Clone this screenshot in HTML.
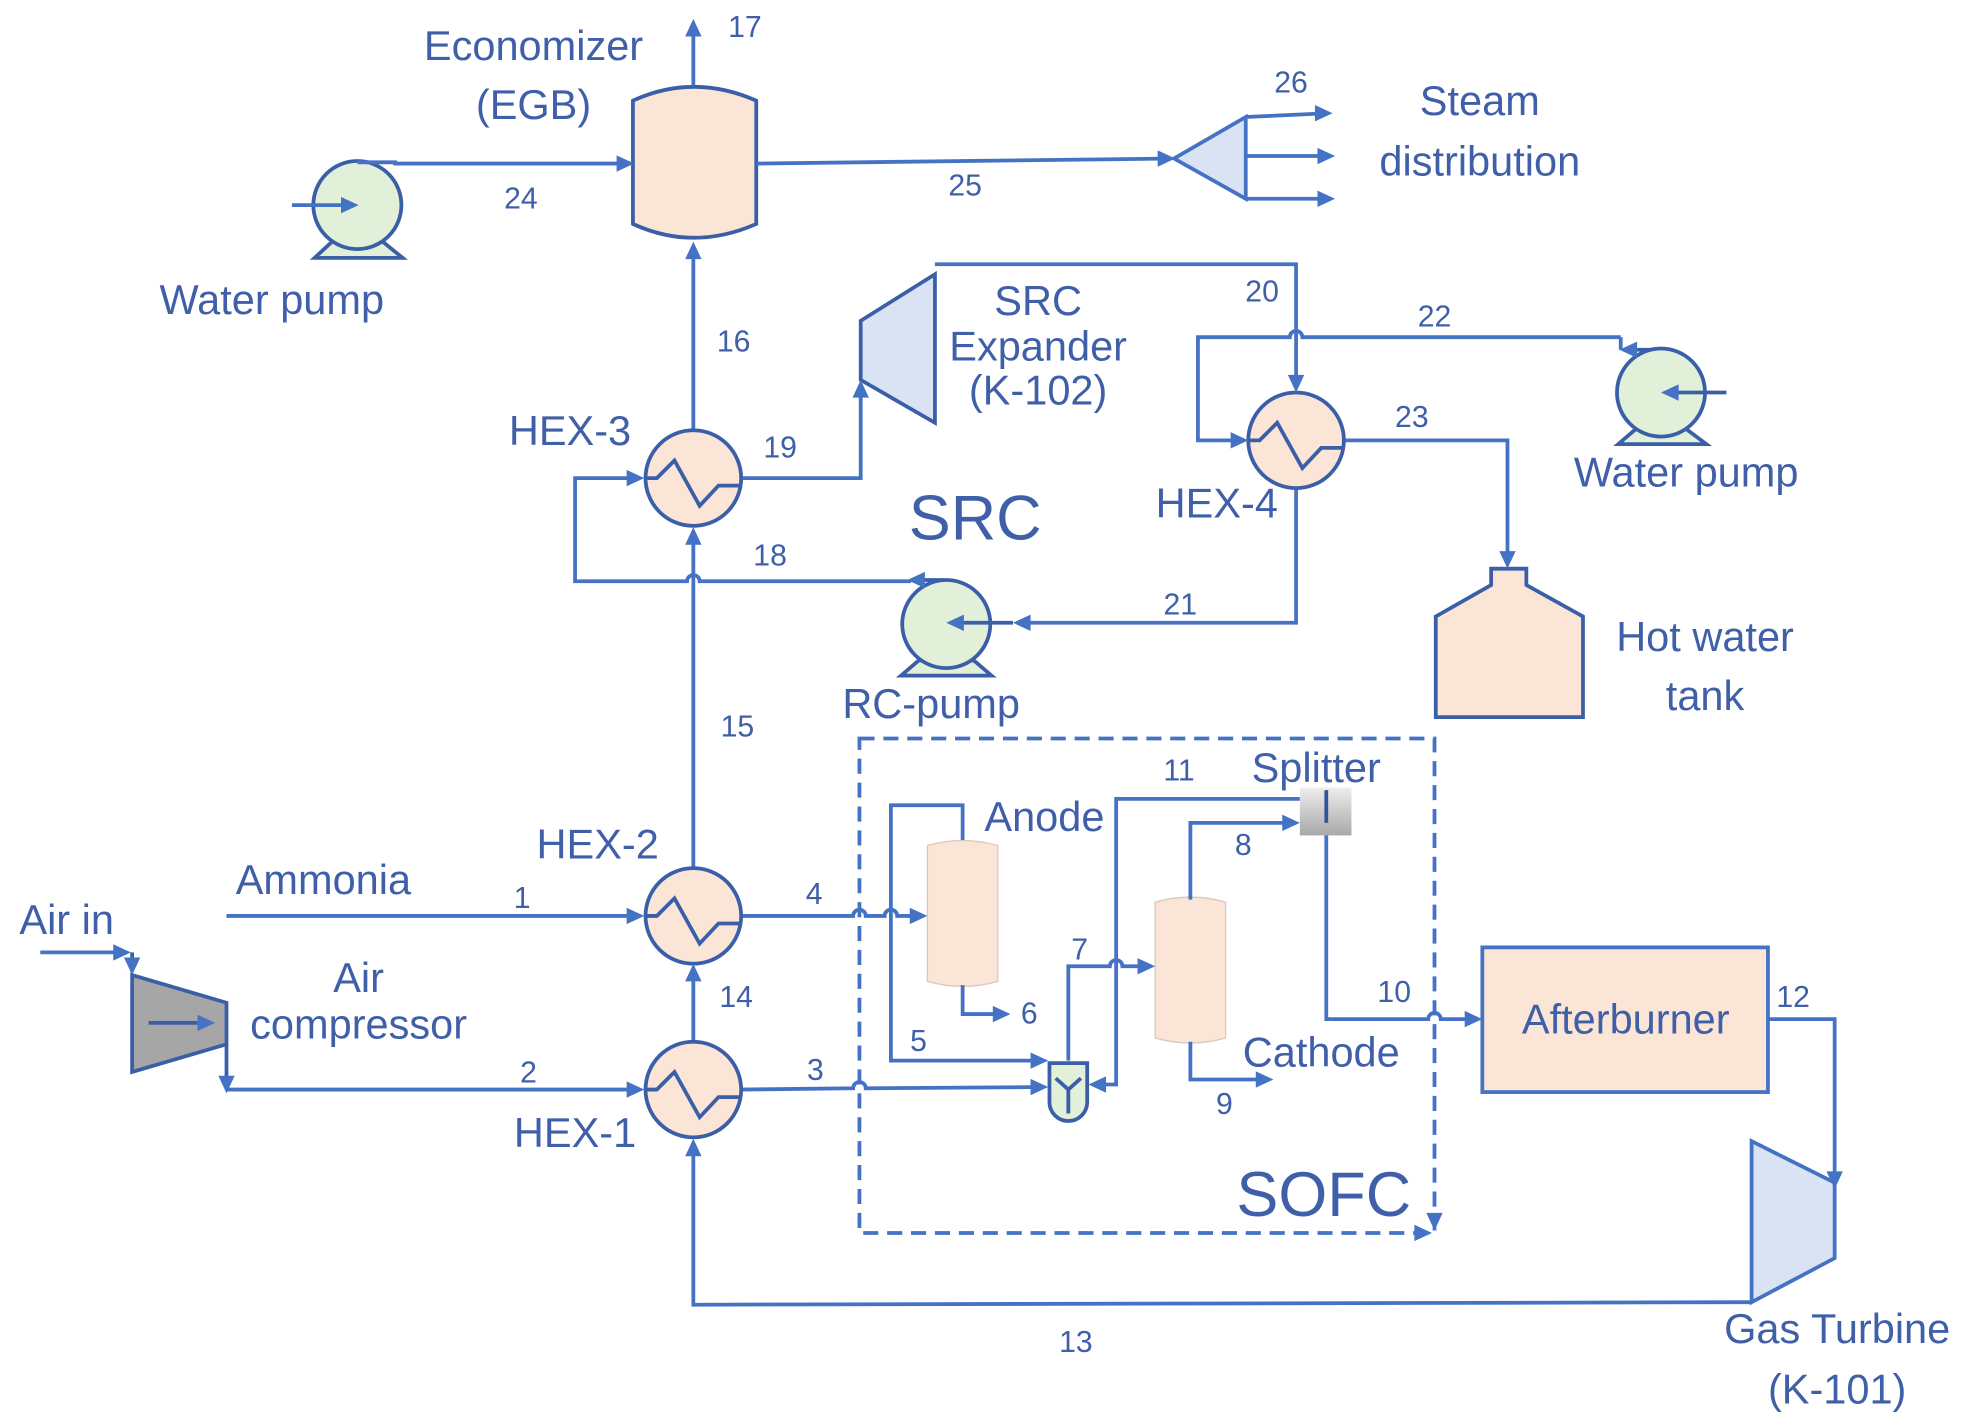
<!DOCTYPE html>
<html><head><meta charset="utf-8"><style>
html,body{margin:0;padding:0;background:#fff}
svg{display:block}
text{font-family:"Liberation Sans",sans-serif;fill:#3F5FA8;dominant-baseline:central;text-anchor:middle}
.n{font-size:24px}
.t{font-size:33px}
.b{font-size:50px}
</style></head><body>
<svg width="1963" height="1428" viewBox="0 0 1560 1135" preserveAspectRatio="none" xmlns="http://www.w3.org/2000/svg" xmlns:xlink="http://www.w3.org/1999/xlink">
<defs>
<path id="R" d="M1,0 L-13,-6.5 L-13,6.5 Z" fill="#4472C4"/>
<linearGradient id="g" x1="0" y1="0" x2="0" y2="1"><stop offset="0" stop-color="#eeeeee"/><stop offset="1" stop-color="#a8a8a8"/></linearGradient>
</defs>
<g fill="none" stroke="#4472C4" stroke-width="3">
<path d="M503,80 Q551,58 601,80 L601,178 Q551,200 503,178 Z" fill="#FBE5D6" stroke="#3A5FA8"/>
<line x1="551" y1="68" x2="551" y2="20"/>
<path d="M250,205 L264,192 L304,192 L320,205 Z" fill="#E2F0D9" stroke="#3A5FA8"/>
<circle cx="284" cy="163" r="35" fill="#E2F0D9" stroke="#3A5FA8"/>
<line x1="232" y1="163" x2="280" y2="163"/>
<path d="M284,129 L314,129 L314,130 L500,130"/>
<line x1="601" y1="130" x2="930" y2="126"/>
<polygon points="933,126 990,93 990,158" fill="#DAE3F3"/>
<line x1="990" y1="93" x2="1055" y2="90"/>
<line x1="990" y1="124" x2="1057" y2="124"/>
<line x1="990" y1="158" x2="1057" y2="158"/>
<line x1="551" y1="342" x2="551" y2="196"/>
<path d="M589,380 L684,380 L684,306"/>
<polygon points="684,255 743,218 743,336 684,302" fill="#DAE3F3" stroke="#3A5FA8"/>
<path d="M743,210 L1030,210 L1030,308"/>
<path d="M1288,268 L1035,268 A5,5 0 0 0 1025,268 L952,268 L952,350 L988,350"/>
<path d="M1288,268 L1288,278"/>
<path d="M1318,278 L1290,278" stroke="#3A5FA8"/>
<path d="M1286,353 L1300,341 L1340,341 L1356,353 Z" fill="#E2F0D9" stroke="#3A5FA8"/>
<ellipse cx="1320" cy="312" rx="35" ry="35" fill="#E2F0D9" stroke="#3A5FA8"/>
<line x1="1372" y1="312" x2="1324" y2="312" stroke="#3A5FA8"/>
<path d="M1068,350 L1198,350 L1198,448"/>
<polygon points="1141,490 1185,465 1185,452 1213,452 1213,465 1258,490 1258,570 1141,570" fill="#FBE5D6" stroke="#3A5FA8"/>
<path d="M1030,388 L1030,495 L809,495"/>
<path d="M716,537 L730,525 L774,525 L788,537 Z" fill="#E2F0D9" stroke="#3A5FA8"/>
<circle cx="752" cy="496" r="35" fill="#E2F0D9" stroke="#3A5FA8"/>
<line x1="805" y1="495" x2="756" y2="495" stroke="#3A5FA8"/>
<path d="M750,461 L725,461" stroke="#3A5FA8"/>
<path d="M724,462 L556,462 A5,5 0 0 0 546,462 L457,462 L457,380 L508,380"/>
<line x1="551" y1="689" x2="551" y2="423"/>
<line x1="180" y1="728" x2="508" y2="728"/>
<path d="M589,728 L678,728 A5,5 0 0 1 688,728 L703,728 A5,5 0 0 1 713,728 L733,728"/>
<line x1="551" y1="828" x2="551" y2="770"/>
<path d="M32,757 L100,757"/>
<path d="M105,757 L105,771" stroke="#3A5FA8"/>
<polygon points="105,775 180,797 180,830 105,852" fill="#A6A6A6" stroke="#3A5FA8"/>
<line x1="118" y1="813" x2="167" y2="813" stroke="#3A5FA8"/>
<path d="M180,830 L180,865" stroke="#3A5FA8"/>
<line x1="180" y1="866" x2="508" y2="866"/>
<path d="M589,866 L678,865 A5,5 0 0 1 688,865 L829,864"/>
<path d="M765,668 L765,640 L708,640 L708,843 L829,843"/>
<path d="M737,672 L737,780 Q765,788 793,780 L793,672 Q765,664 737,672 Z" fill="#FBE5D6" stroke="#d9c7bb" stroke-width="1"/>
<path d="M765,783 L765,806 L799,806"/>
<path d="M849,843 L849,768 L882,768 A5,5 0 0 1 892,768 L914,768"/>
<path d="M1033,635 L887,635 L887,862 L869,862"/>
<path d="M918,717 L918,825 Q946,833 974,825 L974,717 Q946,709 918,717 Z" fill="#FBE5D6" stroke="#d9c7bb" stroke-width="1"/>
<path d="M946,715 L946,654 L1029,654"/>
<path d="M946,828 L946,858 L1008,858"/>
<rect x="1033" y="626" width="41" height="38" fill="url(#g)" stroke="none"/>
<line x1="1054" y1="628" x2="1054" y2="654" stroke="#2F5597"/>
<path d="M1054,664 L1054,810 L1135,810 A5,5 0 0 1 1145,810 L1174,810"/>
<path d="M834,845 L864,845 L864,876 A15,15 0 0 1 834,876 Z" fill="#E2F0D9" stroke="#3A5FA8"/>
<path d="M839,857 L849,866 L859,857 M849,866 L849,885" stroke="#3A5FA8"/>
<rect x="683" y="587" width="457" height="393" stroke-dasharray="12,7"/>
<rect x="1178" y="753" width="227" height="115" fill="#FBE5D6"/>
<path d="M1405,810 L1458,810 L1458,941"/>
<polygon points="1392,907 1458,940 1458,1000 1392,1035" fill="#DAE3F3"/>
<path d="M1392,1035 L551,1037 L551,909"/>
<g fill="#FBE5D6" stroke="#3A5FA8">
<circle cx="551" cy="380" r="38"/><circle cx="1030" cy="350" r="38"/><circle cx="551" cy="728" r="38"/><circle cx="551" cy="866" r="38"/>
</g>
<g stroke="#3A5FA8">
<path d="M513,380 L522,380 L536,366 L556,402 L571,386 L589,386"/>
<path d="M992,350 L1001,350 L1015,336 L1035,372 L1050,356 L1068,356"/>
<path d="M513,728 L522,728 L536,714 L556,750 L571,734 L589,734"/>
<path d="M513,866 L522,866 L536,852 L556,888 L571,872 L589,872"/>
</g>
</g>
<!-- arrowheads -->
<g>
<use xlink:href="#R" href="#R" transform="translate(551,16) rotate(-90)"/>
<use xlink:href="#R" href="#R" transform="translate(284,163)"/>
<use xlink:href="#R" href="#R" transform="translate(503,130)"/>
<use xlink:href="#R" href="#R" transform="translate(933,126)"/>
<use xlink:href="#R" href="#R" transform="translate(1058,90)"/>
<use xlink:href="#R" href="#R" transform="translate(1060,124)"/>
<use xlink:href="#R" href="#R" transform="translate(1060,158)"/>
<use xlink:href="#R" href="#R" transform="translate(551,193) rotate(-90)"/>
<use xlink:href="#R" href="#R" transform="translate(684,303) rotate(-90)"/>
<use xlink:href="#R" href="#R" transform="translate(1030,311) rotate(90)"/>
<use xlink:href="#R" href="#R" transform="translate(991,350)"/>
<use xlink:href="#R" href="#R" transform="translate(1288,278) rotate(180)"/>
<use xlink:href="#R" href="#R" transform="translate(1321,312) rotate(180)"/>
<use xlink:href="#R" href="#R" transform="translate(1198,451) rotate(90)"/>
<use xlink:href="#R" href="#R" transform="translate(806,495) rotate(180)"/>
<use xlink:href="#R" href="#R" transform="translate(753,495) rotate(180)"/>
<use xlink:href="#R" href="#R" transform="translate(722,461) rotate(180)"/>
<use xlink:href="#R" href="#R" transform="translate(511,380)"/>
<use xlink:href="#R" href="#R" transform="translate(551,420) rotate(-90)"/>
<use xlink:href="#R" href="#R" transform="translate(511,728)"/>
<use xlink:href="#R" href="#R" transform="translate(736,728)"/>
<use xlink:href="#R" href="#R" transform="translate(551,767) rotate(-90)"/>
<use xlink:href="#R" href="#R" transform="translate(103,757)"/>
<use xlink:href="#R" href="#R" transform="translate(105,774) rotate(90)"/>
<use xlink:href="#R" href="#R" transform="translate(170,813)"/>
<use xlink:href="#R" href="#R" transform="translate(180,868) rotate(90)"/>
<use xlink:href="#R" href="#R" transform="translate(511,866)"/>
<use xlink:href="#R" href="#R" transform="translate(832,864)"/>
<use xlink:href="#R" href="#R" transform="translate(832,843)"/>
<use xlink:href="#R" href="#R" transform="translate(802,806)"/>
<use xlink:href="#R" href="#R" transform="translate(917,768)"/>
<use xlink:href="#R" href="#R" transform="translate(866,862) rotate(180)"/>
<use xlink:href="#R" href="#R" transform="translate(1032,654)"/>
<use xlink:href="#R" href="#R" transform="translate(1011,858)"/>
<use xlink:href="#R" href="#R" transform="translate(1177,810)"/>
<use xlink:href="#R" href="#R" transform="translate(1140,977) rotate(90)"/>
<use xlink:href="#R" href="#R" transform="translate(1137,980)"/>
<use xlink:href="#R" href="#R" transform="translate(1458,944) rotate(90)"/>
<use xlink:href="#R" href="#R" transform="translate(551,906) rotate(-90)"/>
</g>
<text class="t" x="424" y="36">Economizer</text>
<text class="t" x="424" y="83">(EGB)</text>
<text class="n" x="592" y="22">17</text>
<text class="n" x="414" y="158">24</text>
<text class="t" x="216" y="238">Water pump</text>
<text class="n" x="767" y="148">25</text>
<text class="n" x="1026" y="66">26</text>
<text class="t" x="1176" y="80">Steam</text>
<text class="t" x="1176" y="128">distribution</text>
<text class="n" x="583" y="272">16</text>
<text class="t" x="453" y="342">HEX-3</text>
<text class="n" x="620" y="356">19</text>
<text class="t" x="825" y="239">SRC</text>
<text class="t" x="825" y="275">Expander</text>
<text class="t" x="825" y="310">(K-102)</text>
<text class="n" x="1003" y="232">20</text>
<text class="n" x="1140" y="252">22</text>
<text class="n" x="1122" y="332">23</text>
<text class="t" x="1340" y="375">Water pump</text>
<text class="t" x="967" y="400">HEX-4</text>
<text class="b" x="775" y="412">SRC</text>
<text class="n" x="612" y="442">18</text>
<text class="n" x="938" y="481">21</text>
<text class="t" x="1355" y="506">Hot water</text>
<text class="t" x="1355" y="553">tank</text>
<text class="t" x="740" y="559">RC-pump</text>
<text class="n" x="586" y="578">15</text>
<text class="n" x="937" y="613">11</text>
<text class="t" x="1046" y="610">Splitter</text>
<text class="t" x="830" y="649">Anode</text>
<text class="n" x="988" y="672">8</text>
<text class="t" x="475" y="671">HEX-2</text>
<text class="t" x="257" y="699">Ammonia</text>
<text class="n" x="415" y="714">1</text>
<text class="n" x="647" y="711">4</text>
<text class="t" x="53" y="731">Air in</text>
<text class="n" x="858" y="755">7</text>
<text class="t" x="285" y="777">Air</text>
<text class="t" x="285" y="814">compressor</text>
<text class="n" x="585" y="793">14</text>
<text class="n" x="1108" y="789">10</text>
<text class="n" x="1425" y="793">12</text>
<text class="t" x="1292" y="810">Afterburner</text>
<text class="n" x="818" y="806">6</text>
<text class="n" x="730" y="828">5</text>
<text class="t" x="1050" y="836">Cathode</text>
<text class="n" x="420" y="853">2</text>
<text class="n" x="648" y="851">3</text>
<text class="n" x="973" y="878">9</text>
<text class="t" x="457" y="900">HEX-1</text>
<text class="b" x="1052" y="950">SOFC</text>
<text class="t" x="1460" y="1056">Gas Turbine</text>
<text class="t" x="1460" y="1104">(K-101)</text>
<text class="n" x="855" y="1067">13</text>
</svg>
</body></html>
